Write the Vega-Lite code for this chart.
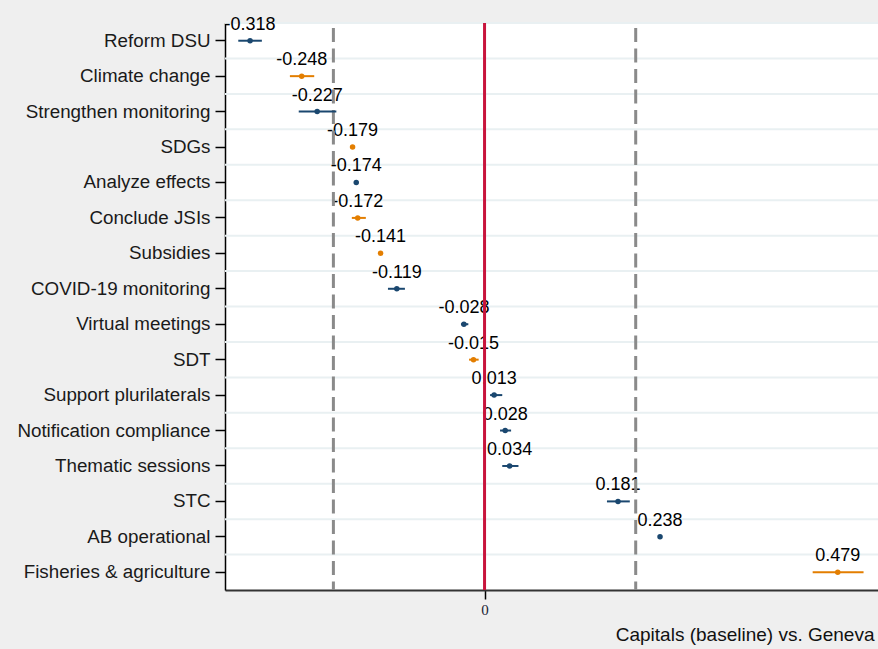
{
  "$schema": "https://vega.github.io/schema/vega-lite/v6.json",
  "width": 653,
  "height": 567,
  "autosize": {"type": "none"},
  "padding": {"left": 225, "top": 23, "right": 0, "bottom": 59},
  "background": "#efefef",
  "config": {
    "view": {"fill": "white", "stroke": null},
    "font": "Liberation Sans"
  },
  "data": {
    "values": [
      {"term": "Reform DSU", "est": -0.318, "lo": -0.334, "hi": -0.302, "grp": "A"},
      {"term": "Climate change", "est": -0.248, "lo": -0.264, "hi": -0.231, "grp": "B"},
      {"term": "Strengthen monitoring", "est": -0.227, "lo": -0.252, "hi": -0.201, "grp": "A"},
      {"term": "SDGs", "est": -0.179, "lo": -0.181, "hi": -0.177, "grp": "B"},
      {"term": "Analyze effects", "est": -0.174, "lo": -0.176, "hi": -0.172, "grp": "A"},
      {"term": "Conclude JSIs", "est": -0.172, "lo": -0.180, "hi": -0.161, "grp": "B"},
      {"term": "Subsidies", "est": -0.141, "lo": -0.143, "hi": -0.139, "grp": "B"},
      {"term": "COVID-19 monitoring", "est": -0.119, "lo": -0.131, "hi": -0.108, "grp": "A"},
      {"term": "Virtual meetings", "est": -0.028, "lo": -0.032, "hi": -0.022, "grp": "A"},
      {"term": "SDT", "est": -0.015, "lo": -0.021, "hi": -0.008, "grp": "B"},
      {"term": "Support plurilaterals", "est": 0.013, "lo": 0.0075, "hi": 0.024, "grp": "A"},
      {"term": "Notification compliance", "est": 0.028, "lo": 0.021, "hi": 0.036, "grp": "A"},
      {"term": "Thematic sessions", "est": 0.034, "lo": 0.024, "hi": 0.046, "grp": "A"},
      {"term": "STC", "est": 0.181, "lo": 0.166, "hi": 0.197, "grp": "A"},
      {"term": "AB operational", "est": 0.238, "lo": 0.236, "hi": 0.240, "grp": "A"},
      {"term": "Fisheries & agriculture", "est": 0.479, "lo": 0.445, "hi": 0.514, "grp": "B"}
    ]
  },
  "encoding": {
    "y": {
      "field": "term",
      "type": "nominal",
      "sort": null,
      "scale": {"paddingInner": 0, "paddingOuter": 0},
      "axis": {
        "title": null,
        "grid": false,
        "labelFontSize": 18.8,
        "labelColor": "#1a1a1a",
        "labelPadding": 5,
        "labelLimit": 0,
        "tickSize": 10,
        "tickColor": "#000000",
        "tickWidth": 1.5,
        "domainColor": "#000000",
        "domainWidth": 1.5
      }
    }
  },
  "layer": [
    {
      "mark": {"type": "rule", "color": "#e9f0f2", "strokeWidth": 2},
      "encoding": {
        "y": {"field": "term", "type": "nominal", "sort": null, "bandPosition": 0}
      }
    },
    {
      "transform": [{"calculate": "replace(format(datum.est, '.3f'), '\u2212', '-')", "as": "label"}],
      "mark": {"type": "text", "fontSize": 18, "color": "#000000", "align": "center", "baseline": "alphabetic", "dy": -11},
      "encoding": {
        "x": {"field": "est", "type": "quantitative"},
        "text": {"field": "label", "type": "nominal"}
      }
    },
    {
      "data": {"values": [{"v": -0.205}, {"v": 0.205}]},
      "mark": {"type": "rule", "color": "#8a8a8a", "strokeWidth": 3, "strokeDash": [14, 6.5], "strokeDashOffset": 15.5},
      "encoding": {
        "x": {"field": "v", "type": "quantitative"},
        "y": null
      }
    },
    {
      "data": {"values": [{"v": 0}]},
      "mark": {"type": "rule", "color": "#c8143c", "strokeWidth": 3},
      "encoding": {
        "x": {"field": "v", "type": "quantitative"},
        "y": null
      }
    },
    {
      "mark": {"type": "rule", "strokeWidth": 2},
      "encoding": {
        "x": {"field": "lo", "type": "quantitative"},
        "x2": {"field": "hi"},
        "color": {"field": "grp", "type": "nominal", "scale": {"domain": ["A", "B"], "range": ["#1a476f", "#e37e00"]}, "legend": null}
      }
    },
    {
      "mark": {"type": "point", "filled": true, "size": 30, "opacity": 1},
      "encoding": {
        "x": {
          "field": "est",
          "type": "quantitative",
          "scale": {"domain": [-0.352, 0.5336], "nice": false, "zero": false},
          "axis": {
            "values": [0],
            "format": "d",
            "grid": false,
            "title": "Capitals (baseline) vs. Geneva",
            "titleAnchor": "end",
            "titleAlign": "right",
            "titleX": 649,
            "titleFontSize": 19,
            "titleFontWeight": "normal",
            "titleColor": "#111111",
            "titlePadding": 8,
            "labelFont": "Liberation Serif",
            "labelFontSize": 15,
            "labelColor": "#1a2233",
            "labelPadding": 3,
            "tickSize": 9,
            "tickColor": "#000000",
            "tickWidth": 1.5,
            "domainColor": "#333333",
            "domainWidth": 2
          }
        },
        "color": {"field": "grp", "type": "nominal", "scale": {"domain": ["A", "B"], "range": ["#1a476f", "#e37e00"]}, "legend": null}
      }
    }
  ]
}
